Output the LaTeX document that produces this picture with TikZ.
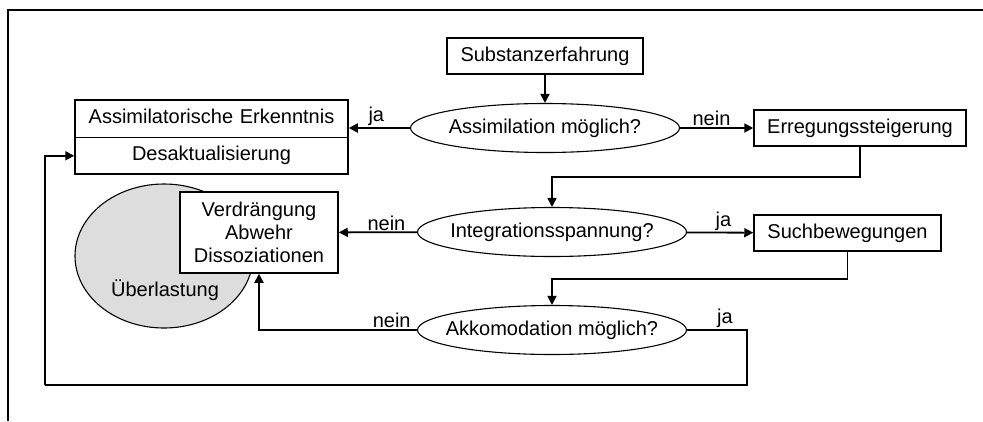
\documentclass[tikz,border=0pt]{standalone}
\usepackage{fontspec}
\setmainfont{Liberation Sans}
\usepackage{tikz}
\usetikzlibrary{shapes,positioning,calc,arrows.meta}
\colorlet{overloadgray}{gray!27}

\begin{document}
\begin{tikzpicture}[x=1pt, y=-1pt, font=\fontsize{20}{23}\selectfont,
  process/.style={rectangle, draw, line width=1.5pt, minimum width=#1, minimum height=36pt, inner sep=0pt, align=center},
  question/.style={ellipse, draw, line width=1.1pt, minimum width=269pt, minimum height=49pt, inner xsep=-16pt, inner ysep=0pt},
  answer/.style={above, inner sep=1pt, pos=#1},
  flow/.style={line width=1.8pt, -{Triangle[length=9pt,width=9pt]}},
  link/.style={line width=1.8pt}]

\useasboundingbox (0,0) rectangle (983,421);
\draw[line width=1.1pt] (8,421) -- (8,10) -- (983,10);

% OVERLOAD

\node [ellipse, draw, line width=1.1pt, fill=overloadgray, minimum width=178pt, minimum height=144pt] (overload) at (164,256) {};
\node (overloadtext) at (165,290) {Überlastung};

% PROCESSES

\node [question] (assimq) at (545,128) {Assimilation möglich?};
\node [process=196pt, above=28pt of assimq] (substance) {Substanzerfahrung};

\node [rectangle split, rectangle split parts=2, rectangle split part align=base, draw, line width=1.5pt, text width=255pt, align=center, text height=15pt, text depth=5pt, inner xsep=9pt, inner ysep=8pt] (insight) at (211.5,137)
{Assimilatorische Erkenntnis%
\nodepart{two} Desaktualisierung};

\node [process=212pt] (arousal) at (860,128) {Erregungssteigerung};

\node [question] (integq) at (552,232) {Integrationsspannung?};
\node [process=158pt, minimum height=81pt, fill=white] (defence) at (259,232.5) {Verdrängung\\Abwehr\\Dissoziationen};
\node [process=187pt] (search) at (847.5,233) {Suchbewegungen};

\node [question] (accomq) at (552,330) {Akkomodation möglich?};

% FLOWS

\coordinate (desakt) at ($(insight.west)!0.5!(insight.south west)$);
\coordinate (loopcorner) at (45,385);

\draw [flow] (substance) -- (assimq);
\draw [flow] (assimq.west) -- node[answer=0.55] {ja} (assimq.west -| insight.east);
\draw [flow] (assimq) -- node[answer=0.43] {nein} (arousal);
\draw [flow] (arousal.south) -- ++(0,30) -| (integq.north);

\draw [flow] (integq) -- node[answer=0.39] {nein} (defence);
\draw [flow] (integq) -- node[answer=0.55] {ja} (search);
\draw [flow] (search.south) -- ++(0,27) -| (accomq.north);

\draw [flow] (accomq.west) -- node[answer=0.16] {nein} (defence.south |- accomq.west) -- (defence.south);
\draw [link] (accomq.east) -- node[answer=0.63] {ja} ++(60,0) |- (loopcorner);
\draw [flow] (loopcorner) |- (desakt);

\end{tikzpicture}
\end{document}
